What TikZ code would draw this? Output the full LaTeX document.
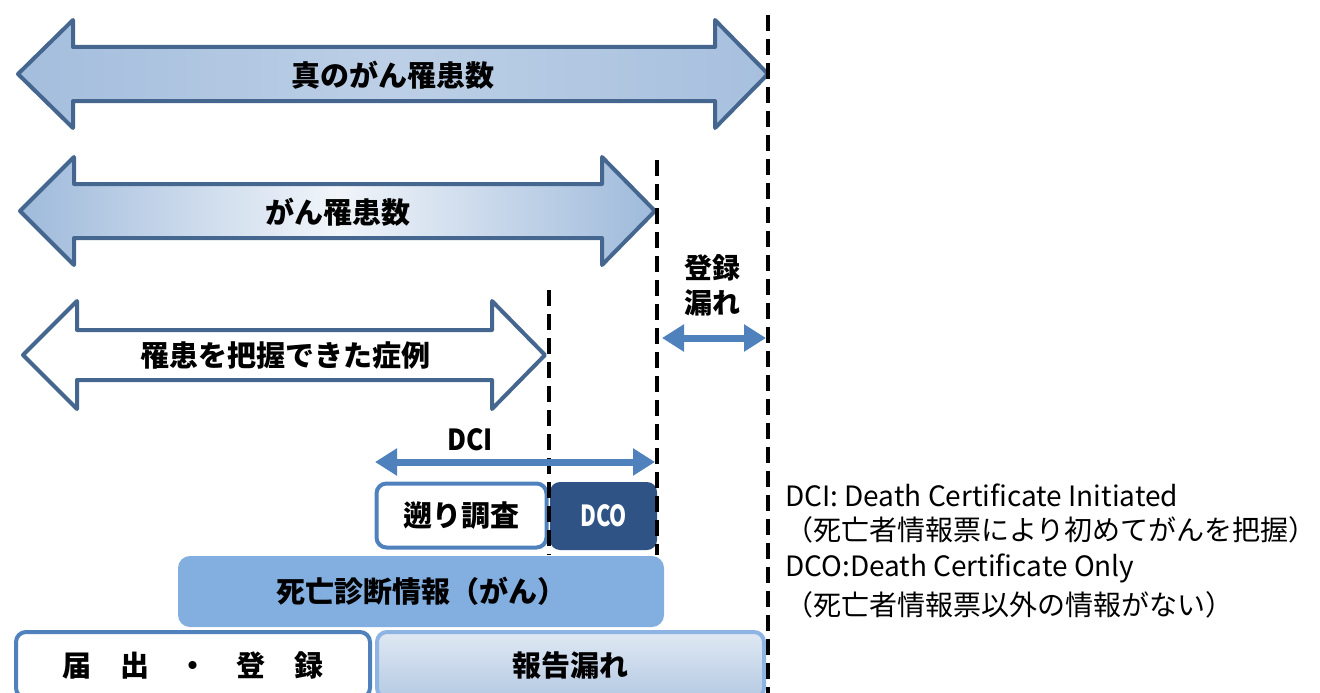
\documentclass[tikz,border=0pt]{standalone}
\usepackage{fontspec}
\setmainfont{Noto Sans CJK JP}
\usetikzlibrary{arrows.meta}

\definecolor{pfeilrand}{HTML}{45668F}
\definecolor{blau}{HTML}{4F81BD}
\definecolor{dunkelblau}{HTML}{2F5385}
\definecolor{mittelblau}{HTML}{83AFE0}
\definecolor{hellrand}{HTML}{8EB4E3}

\tikzset{
	grosspfeil/.style={draw=pfeilrand, line width=4pt, line join=round},
	label/.style={font=\fontsize{29}{35}\selectfont\bfseries, inner sep=0pt, align=center},
	trennlinie/.style={line width=4.5pt, dash pattern=on 16pt off 8pt},
	blaupfeil/.style={draw=blau, line width=7pt, {Triangle[length=22pt,width=26pt]}-{Triangle[length=22pt,width=26pt]}},
	kasten/.style={rounded corners=10pt, line width=4pt, font=\fontsize{29}{35}\selectfont\bfseries},
	legende/.style={anchor=west, inner sep=0pt, font=\fontsize{28}{32}\selectfont}
}

\begin{document}
\begin{tikzpicture}[x=1pt, y=-1pt]
	\useasboundingbox (0,0) rectangle (1320,693);
	\clip (0,0) rectangle (1320,693);
	
	% Pfeil: wahre Inzidenz
	\shadedraw[grosspfeil, left color=blau!52, right color=blau!50, middle color=blau!38]
		(18,74) -- (73,20) -- (73,47) -- (715,47) -- (715,20) -- (768,74) -- (715,128) -- (715,101) -- (73,101) -- (73,128) -- cycle;
	\node (wahr) [label] at (393,75) {真のがん罹患数};
	
	% Pfeil: Inzidenz
	\shadedraw[grosspfeil, left color=blau!55, right color=blau!55, middle color=blau!8]
		(20,211) -- (74,157) -- (74,184) -- (602,184) -- (602,157) -- (655,211) -- (602,265) -- (602,238) -- (74,238) -- (74,265) -- cycle;
	\node (inzidenz) [label] at (338,212) {がん罹患数};
	
	% Pfeil: erfasste Faelle
	\filldraw[grosspfeil, fill=white]
		(23,355) -- (77,301) -- (77,330) -- (492,330) -- (492,301) -- (545,355) -- (492,409) -- (492,380) -- (77,380) -- (77,409) -- cycle;
	\node (erfasst) [label] at (285,356) {罹患を把握できた症例};
	
	% Kaesten
	\node (rueck) [kasten, draw=blau, fill=white, minimum width=170pt, minimum height=64pt] at (461.5,515.5) {遡り調査};
	\node (dco) [kasten, fill=dunkelblau, text=white, minimum width=107pt, minimum height=68pt] at (603.5,516) {\scalebox{0.75}[1]{DCO}};
	\node (tod) [kasten, fill=mittelblau, rounded corners=12pt, minimum width=486pt, minimum height=71pt] at (421,591.5) {死亡診断情報（がん）};
	\node (melde) [kasten, draw=blau, fill=white, minimum width=354pt, minimum height=66pt] at (193,665) {届　出　・　登　録};
	\node (bericht) [kasten, draw=hellrand, top color=blau!18, bottom color=blau!42, minimum width=387pt, minimum height=66pt] at (570.5,665) {報告漏れ};
	
	% Trennlinien
	\draw[trennlinie] (768,15) -- (768,693);
	\draw[trennlinie] (657,160) -- (657,555);
	\draw[trennlinie] (549,290) -- (549,555);
	
	% Registrierungsluecke
	\node (luecke) [label, font=\fontsize{28}{35}\selectfont\bfseries] at (712,285) {登録\\漏れ};
	\coordinate (luecke-l) at (662,338);
	\coordinate (luecke-r) at (766,338);
	\draw[blaupfeil] (luecke-l) -- (luecke-r);
	
	% DCI
	\node (dci) [label] at (470,440) {\scalebox{0.9}[1]{DCI}};
	\coordinate (dci-l) at (375,462);
	\coordinate (dci-r) at (655,462);
	\draw[blaupfeil] (dci-l) -- (dci-r);
	
	% Legende
	\node (leg1) [legende] at (785,495) {DCI: Death Certificate Initiated};
	\node (leg2) [legende] at (785,530) {（死亡者情報票により初めてがんを把握）};
	\node (leg3) [legende] at (785,568) {DCO:Death Certificate Only};
	\node (leg4) [legende] at (785,605) {（死亡者情報票以外の情報がない）};
	
\end{tikzpicture}
\end{document}
